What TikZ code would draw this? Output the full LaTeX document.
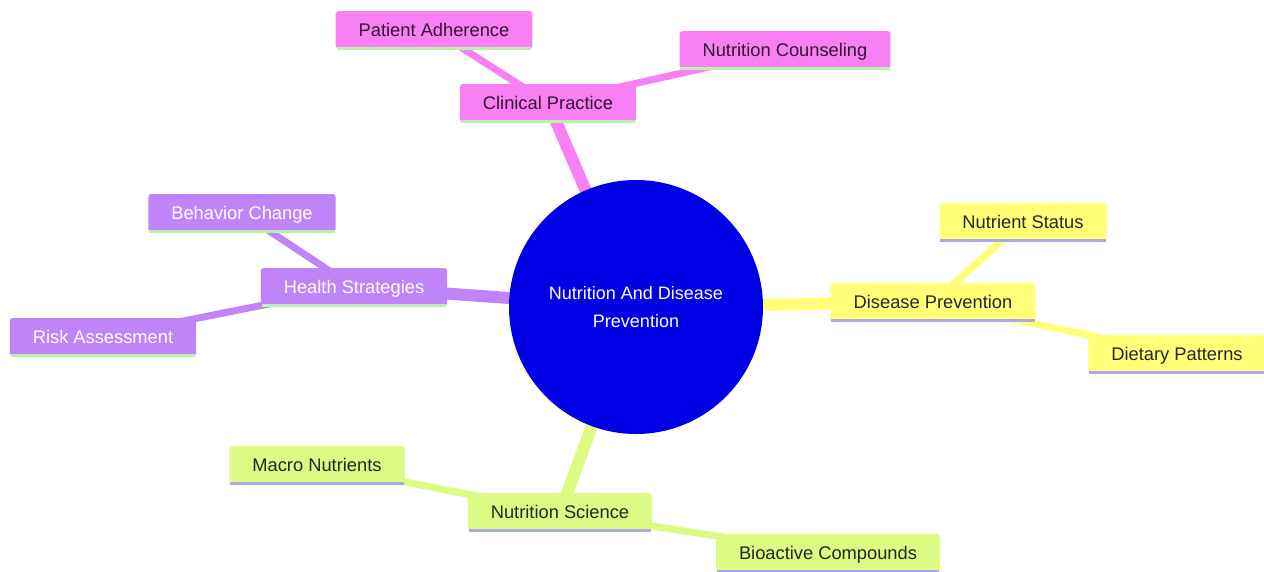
\documentclass[tikz,border=0pt]{standalone}
\usepackage{fontspec}
\setmainfont{Liberation Sans}
\usetikzlibrary{backgrounds}
\definecolor{pinkc}{RGB}{248,128,244}
\definecolor{purplec}{RGB}{190,132,248}
\definecolor{yellowc}{RGB}{255,255,120}
\definecolor{greenc}{RGB}{221,250,132}
\definecolor{rootc}{RGB}{0,0,228}
\definecolor{grline}{RGB}{185,240,170}
\definecolor{lavline}{RGB}{170,168,230}
\definecolor{pinktext}{RGB}{50,20,50}
\tikzset{
  box/.style={rounded corners=3pt, minimum height=38pt, inner xsep=23pt, inner ysep=0pt,
    text height=16pt, text depth=3pt, font=\fontsize{18.3}{22}\selectfont},
  pinkbox/.style={box, fill=pinkc, text=pinktext},
  purplebox/.style={box, fill=purplec, text=white},
  yellowbox/.style={box, fill=yellowc, text=black!85},
  greenbox/.style={box, fill=greenc, text=black!85},
  mainedge/.style={line width=12pt},
  subedge/.style={line width=7pt},
  uline/.style={line width=3pt},
}
\begin{document}
\begin{tikzpicture}[x=1pt,y=-1pt]
\useasboundingbox (0,0) rectangle (1264,571);
\node[circle, fill=rootc, minimum size=254pt, inner sep=0pt, text=white,
      align=center, font=\fontsize{18}{28}\selectfont] (root) at (636,307)
      {Nutrition And Disease\\Prevention};
% Clinical Practice branch
\node[pinkbox] (cp) at (548,103) {Clinical Practice};
\node[pinkbox] (pa) at (434,30) {Patient Adherence};
\node[pinkbox] (nc) at (785,50) {Nutrition Counseling};
% Health Strategies branch
\node[purplebox] (hs) at (354,287) {Health Strategies};
\node[purplebox] (bc) at (242,213) {Behavior Change};
\node[purplebox] (ra) at (103,337) {Risk Assessment};
% Disease Prevention branch
\node[yellowbox] (dp) at (933,302) {Disease Prevention};
\node[yellowbox] (ns) at (1023,222) {Nutrient Status};
\node[yellowbox] (dt) at (1177,354) {Dietary Patterns};
% Nutrition Science branch
\node[greenbox] (sc) at (560,512) {Nutrition Science};
\node[greenbox] (mn) at (317,465) {Macro Nutrients};
\node[greenbox] (bi) at (828,553) {Bioactive Compounds};
\foreach \n in {cp,pa,nc,hs,bc,ra}
  \draw[uline, grline] ([xshift=1pt,yshift=1pt]\n.south west) -- ([xshift=-1pt,yshift=1pt]\n.south east);
\foreach \n in {dp,ns,dt,sc,mn,bi}
  \draw[uline, lavline] ([xshift=1pt,yshift=1pt]\n.south west) -- ([xshift=-1pt,yshift=1pt]\n.south east);
\begin{scope}[on background layer]
  \fill[white] (0,0) rectangle (1264,571);
  \draw[mainedge, pinkc] (root.center) -- (cp.center);
  \draw[subedge, pinkc] (cp.center) -- (pa.center);
  \draw[subedge, pinkc] (cp.center) -- (nc.center);
  \draw[mainedge, purplec] (root.center) -- (hs.center);
  \draw[subedge, purplec] (hs.center) -- (bc.center);
  \draw[subedge, purplec] (hs.center) -- (ra.center);
  \draw[mainedge, yellowc] (root.center) -- (dp.center);
  \draw[subedge, yellowc] (dp.center) -- (ns.center);
  \draw[subedge, yellowc] (dp.center) -- (dt.center);
  \draw[mainedge, greenc] (root.center) -- (sc.center);
  \draw[subedge, greenc] (sc.center) -- (mn.center);
  \draw[subedge, greenc] (sc.center) -- (bi.center);
\end{scope}
\end{tikzpicture}
\end{document}
